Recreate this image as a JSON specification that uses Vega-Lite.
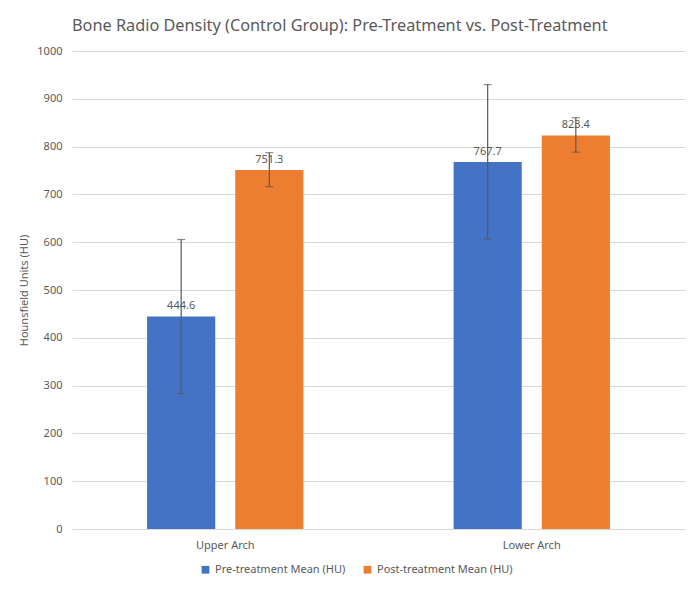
{
  "$schema": "https://vega.github.io/schema/vega-lite/v6.json",
  "width": 613,
  "height": 478,
  "autosize": "none",
  "padding": {"left": 72, "top": 51, "right": 15, "bottom": 63},
  "background": "white",
  "title": {
    "text": "Bone Radio Density (Control Group): Pre-Treatment vs. Post-Treatment",
    "anchor": "start",
    "frame": "group",
    "font": "Noto Sans",
    "fontSize": 16.3,
    "fontWeight": "normal",
    "color": "#595959",
    "offset": 11
  },
  "config": {
    "font": "Noto Sans",
    "view": {"stroke": null},
    "axis": {"labelColor": "#595959", "titleColor": "#595959", "labelFontSize": 11, "labelFont": "Noto Sans", "titleFont": "Noto Sans"}
  },
  "data": {
    "values": [
      {"arch": "Upper Arch", "series": "Pre-treatment Mean (HU)", "mean": 444.6, "lo": 283.6, "hi": 605.6},
      {"arch": "Upper Arch", "series": "Post-treatment Mean (HU)", "mean": 751.3, "lo": 716.3, "hi": 787.3},
      {"arch": "Lower Arch", "series": "Pre-treatment Mean (HU)", "mean": 767.7, "lo": 606.7, "hi": 929.7},
      {"arch": "Lower Arch", "series": "Post-treatment Mean (HU)", "mean": 823.4, "lo": 788.4, "hi": 860.4}
    ]
  },
  "encoding": {
    "x": {
      "field": "arch", "type": "nominal", "sort": ["Upper Arch", "Lower Arch"],
      "scale": {"paddingInner": 0.49, "paddingOuter": 0.245},
      "axis": {"title": null, "labelAngle": 0, "ticks": false, "domainColor": "#d9d9d9", "labelPadding": 10}
    },
    "xOffset": {
      "field": "series", "type": "nominal",
      "sort": ["Pre-treatment Mean (HU)", "Post-treatment Mean (HU)"],
      "scale": {"paddingInner": 0.227, "paddingOuter": 0}
    }
  },
  "layer": [
    {
      "mark": {"type": "bar"},
      "encoding": {
        "y": {
          "field": "mean", "type": "quantitative",
          "scale": {"domain": [0, 1000]},
          "axis": {"title": "Hounsfield Units (HU)", "format": "d", "titleFontSize": 11, "titleFontWeight": "normal", "tickCount": 10, "ticks": false, "domain": false, "gridColor": "#d9d9d9", "labelPadding": 10, "titlePadding": 7}
        },
        "color": {
          "field": "series", "type": "nominal",
          "sort": ["Pre-treatment Mean (HU)", "Post-treatment Mean (HU)"],
          "scale": {"range": ["#4472C4", "#ED7D31"]},
          "legend": {
            "title": null, "orient": "none", "direction": "horizontal",
            "legendX": 128, "legendY": 513,
            "symbolType": "square", "symbolSize": 60, "symbolStrokeWidth": 0,
            "labelFontSize": 11, "labelColor": "#595959", "columnPadding": 16
          }
        }
      }
    },
    {
      "mark": {"type": "text", "dy": -10, "fontSize": 11, "color": "#595959"},
      "encoding": {
        "y": {"field": "mean", "type": "quantitative"},
        "text": {"field": "mean", "type": "quantitative", "format": ".1f"}
      }
    },
    {
      "mark": {"type": "rule", "color": "#595959", "strokeWidth": 1.2},
      "encoding": {
        "y": {"field": "lo", "type": "quantitative"},
        "y2": {"field": "hi"}
      }
    },
    {
      "mark": {"type": "tick", "color": "#595959", "thickness": 1.2, "size": 8, "orient": "horizontal"},
      "encoding": {"y": {"field": "lo", "type": "quantitative"}}
    },
    {
      "mark": {"type": "tick", "color": "#595959", "thickness": 1.2, "size": 8, "orient": "horizontal"},
      "encoding": {"y": {"field": "hi", "type": "quantitative"}}
    }
  ]
}
